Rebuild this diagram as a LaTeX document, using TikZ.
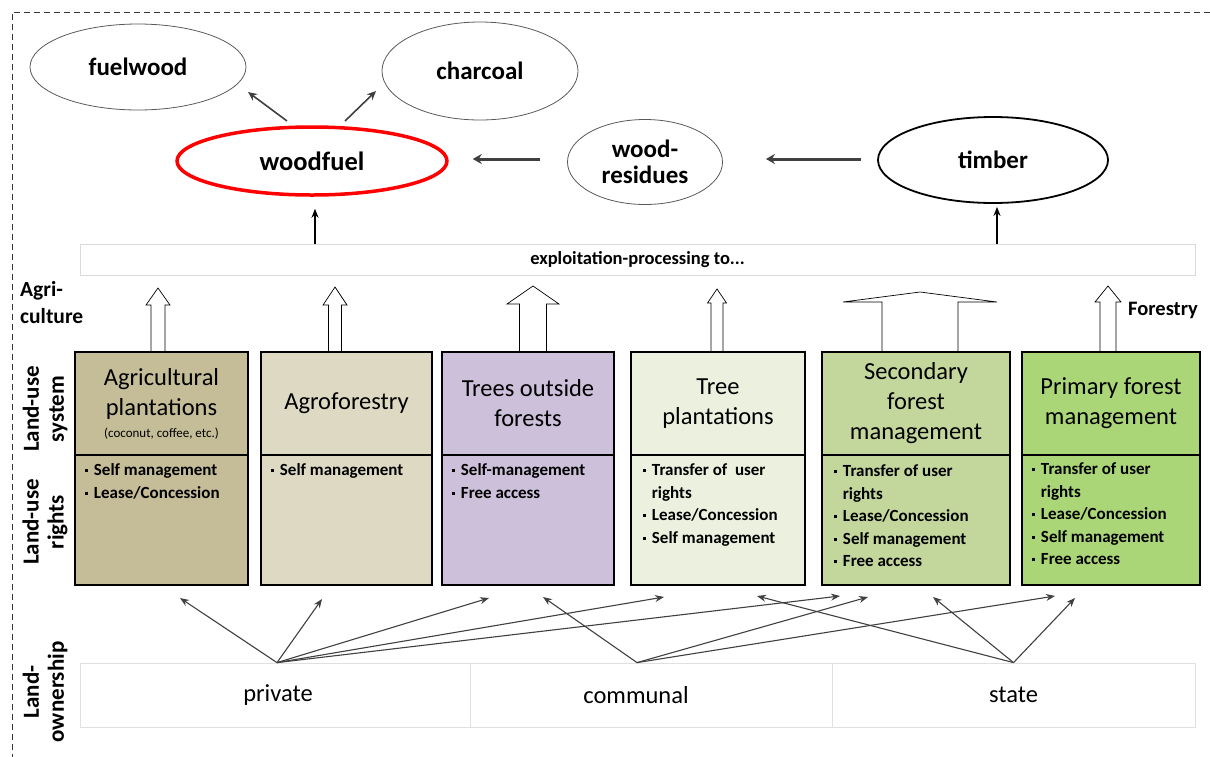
\documentclass[tikz,border=0pt]{standalone}
\usepackage{fontspec}
\setmainfont{Carlito}
\usetikzlibrary{arrows.meta,calc,shapes.geometric}
\definecolor{cA}{HTML}{C4BD97}
\definecolor{cB}{HTML}{DDD9C3}
\definecolor{cC}{HTML}{CCC0DA}
\definecolor{cD}{HTML}{EBF1DE}
\definecolor{cE}{HTML}{C3D69B}
\definecolor{cF}{HTML}{AAD678}
\definecolor{arrgray}{HTML}{404040}
\newcommand\bu{\makebox[9pt][l]{\raisebox{3.5pt}{\rule{3pt}{3pt}}}}
\newcommand\bi{\hspace*{9pt}}
\newcommand\hollowarrow[6]{%
  \draw[fill=white,line width=0.7pt] (#1-#2,#6) -- (#1-#2,#5) -- (#1-#3,#5) -- (#1,#4) -- (#1+#3,#5) -- (#1+#2,#5) -- (#1+#2,#6);}
\begin{document}
\begin{tikzpicture}[x=1pt,y=-1pt,
  ell/.style={ellipse,draw=black!65,line width=0.8pt,inner sep=0pt,font=\bfseries\fontsize{25}{26}\selectfont,align=center},
  sysbox/.style={draw,line width=2.5pt,minimum height=103pt,align=center,inner sep=0pt,font=\fontsize{24.5}{30}\selectfont},
  rightbox/.style={draw,line width=2.5pt,minimum height=130pt,inner sep=0pt},
  rtext/.style={anchor=north west,align=left,inner sep=0pt,font=\bfseries\fontsize{17}{22.5}\selectfont},
  cellbox/.style={draw=black!12,line width=0.8pt,minimum height=64pt,inner sep=0pt,font=\fontsize{24.5}{26}\selectfont},
  sidelabel/.style={rotate=90,align=center,font=\bfseries\fontsize{23}{25}\selectfont},
  toparr/.style={draw=arrgray,line width=3pt,-{Stealth[length=9pt,width=10pt]}},
  diagarr/.style={draw=arrgray,line width=1.6pt,-{Stealth[length=9pt,width=8pt]}},
  ownarr/.style={draw=arrgray,line width=1.1pt,-{Stealth[length=9pt,width=7pt]}}
]
\useasboundingbox (0,0) rectangle (1210,756);
% dashed frame
\draw[black!80,line width=0.9pt,dash pattern=on 6pt off 4pt] (12,780) -- (12,12) -- (1230,12);

% ellipses
\node[ell,minimum width=216pt,minimum height=86pt] (fuelwood) at (138,67) {fuelwood};
\node[ell,minimum width=196pt,minimum height=98pt] (charcoal) at (480,71) {charcoal};
\node[ell,draw=red,line width=3.5pt,minimum width=270pt,minimum height=68pt,font=\bfseries\fontsize{26.5}{28}\selectfont] (woodfuel) at (312,161) {woodfuel};
\node[ell,minimum width=155pt,minimum height=85pt] (residues) at (645,162) {wood-\\residues};
\node[ell,draw=black,line width=1.8pt,minimum width=230pt,minimum height=86pt] (timber) at (993,160) {timber};

% exploitation bar
\node[draw=black!15,line width=0.8pt,minimum width=1115pt,minimum height=31pt,inner sep=0pt,font=\bfseries\fontsize{18.5}{20}\selectfont] (bar) at (637.5,259.5) {exploitation-processing to...};

% top connectors
\coordinate (wfA) at (287,121);
\coordinate (fwA) at (248,92);
\coordinate (wfB) at (345,121);
\coordinate (chA) at (376,91);
\draw[diagarr] (wfA) -- (fwA);
\draw[diagarr] (wfB) -- (chA);
\draw[toparr] ($(residues.west)+(-27,-3)$) -- ($(woodfuel.east)+(24,-2)$);
\draw[toparr] ($(timber.west)+(-16,-1)$) -- ($(residues.east)+(43,-3)$);
\draw[draw=black,line width=1.5pt,-{Stealth[length=9pt,width=7pt]}] (bar.north -| 315,0) -- ($(woodfuel.south -| 315,0)+(0,12)$);
\draw[draw=black,line width=1.5pt,-{Stealth[length=9pt,width=7pt]}] (bar.north -| 997,0) -- ($(timber.south -| 997,0)+(0,3)$);

% hollow arrows
\hollowarrow{158}{7}{12}{288}{305}{352}
\hollowarrow{335}{6.5}{12}{287}{305}{352}
\hollowarrow{533}{13.5}{26}{286}{304}{352}
\hollowarrow{717}{6}{9.5}{289}{303}{352}
\hollowarrow{920}{38}{77}{292}{302}{352}
\hollowarrow{1108}{8}{13}{286}{302}{352}

% side labels
\node[anchor=north west,align=left,inner sep=0pt,font=\bfseries\fontsize{21.5}{27}\selectfont] (agri) at (20,281) {Agri-\\culture};
\node[anchor=west,inner sep=0pt,font=\bfseries\fontsize{20.5}{22}\selectfont] (forestry) at (1128,310) {Forestry};
\node[sidelabel] (lsys) at (45,409) {Land-use\\system};
\node[sidelabel] (lrig) at (45,522) {Land-use\\rights};
\node[sidelabel] (lown) at (45,692) {Land-\\ownership};

% system boxes
\node[sysbox,fill=cA,minimum width=173pt] (s1) at (161.5,403.5) {Agricultural\\plantations\\[-8pt]{\fontsize{13}{14}\selectfont (coconut, coffee, etc.)}};
\node[sysbox,fill=cB,minimum width=171pt] (s2) at (346.5,403.5) {Agroforestry};
\node[sysbox,fill=cC,minimum width=172pt] (s3) at (528,403.5) {Trees outside\\forests};
\node[sysbox,fill=cD,minimum width=174pt] (s4) at (718,403.5) {Tree\\plantations};
\node[sysbox,fill=cE,minimum width=188pt] (s5) at (916,403.5) {Secondary\\forest\\management};
\node[sysbox,fill=cF,minimum width=178pt] (s6) at (1111,403.5) {Primary forest\\management};

% rights boxes
\node[rightbox,fill=cA,minimum width=173pt] (r1) at (161.5,520) {};
\node[rightbox,fill=cB,minimum width=171pt] (r2) at (346.5,520) {};
\node[rightbox,fill=cC,minimum width=172pt] (r3) at (528,520) {};
\node[rightbox,fill=cD,minimum width=174pt] (r4) at (718,520) {};
\node[rightbox,fill=cE,minimum width=188pt] (r5) at (916,520) {};
\node[rightbox,fill=cF,minimum width=178pt] (r6) at (1111,520) {};

\node[rtext] (t1) at ($(r1.north west)+(11,10)$) {\bu Self management\\\bu Lease/Concession};
\node[rtext] (t2) at ($(r2.north west)+(11,10)$) {\bu Self management};
\node[rtext] (t3) at ($(r3.north west)+(11,10)$) {\bu Self-management\\\bu Free access};
\node[rtext] (t4) at ($(r4.north west)+(13,10)$) {\bu Transfer of\ \ user\\\bi rights\\\bu Lease/Concession\\\bu Self management};
\node[rtext] (t5) at ($(r5.north west)+(13,11)$) {\bu Transfer of user\\\bi rights\\\bu Lease/Concession\\\bu Self management\\\bu Free access};
\node[rtext] (t6) at ($(r6.north west)+(11,9)$) {\bu Transfer of user\\\bi rights\\\bu Lease/Concession\\\bu Self management\\\bu Free access};

% ownership cells
\node[cellbox,minimum width=390pt] (private) at (275,695) {\hspace*{6pt}private};
\node[cellbox,minimum width=362pt] (communal) at (651,695) {communal\hspace*{30pt}};
\node[cellbox,minimum width=363pt] (state) at (1013.5,695) {state};

\coordinate (oP) at ($(private.north)+(2,0)$);
\coordinate (oC) at ($(communal.north)+(-14,0)$);
\coordinate (oS) at ($(state.north)+(0,0)$);
\coordinate (e1) at (180,598);
\coordinate (e2) at (322,599);
\coordinate (e3) at (489,598);
\coordinate (e4) at (664,597);
\coordinate (e5) at (840,596);
\coordinate (e6) at (543,597);
\coordinate (e7) at (868,597);
\coordinate (e8) at (1055,596);
\coordinate (e9) at (757,596);
\coordinate (e10) at (933,597);
\coordinate (e11) at (1075,598);
\foreach \t in {e1,e2,e3,e4,e5} \draw[ownarr] (oP) -- (\t);
\foreach \t in {e6,e7,e8} \draw[ownarr] (oC) -- (\t);
\foreach \t in {e9,e10,e11} \draw[ownarr] (oS) -- (\t);
\end{tikzpicture}
\end{document}
